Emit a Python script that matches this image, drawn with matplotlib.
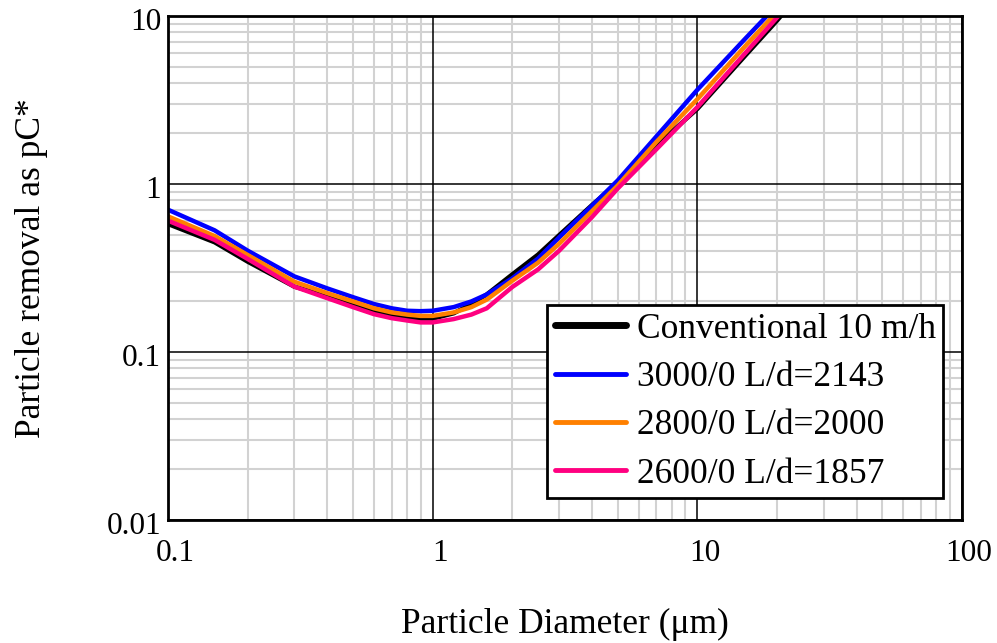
import matplotlib
matplotlib.use("Agg")
import matplotlib.pyplot as plt
from matplotlib.ticker import FixedLocator, FixedFormatter, LogLocator, NullFormatter
from matplotlib.transforms import ScaledTranslation

plt.rcParams['font.family'] = ['Liberation Serif', 'DejaVu Serif']

diam = [0.1, 0.15, 0.2, 0.3, 0.4, 0.5, 0.6, 0.7, 0.8, 0.9, 1.0, 1.2, 1.4, 1.6,
        2, 2.5, 3, 4, 5, 7, 10, 15, 20, 25]
conventional = [0.578, 0.45, 0.345, 0.245, 0.215, 0.19, 0.174, 0.165, 0.16, 0.158, 0.158, 0.17, 0.193, 0.22,
                0.29, 0.38, 0.495, 0.75, 1.02, 1.7, 2.8, 5.7, 9.4, 14.3]
l3000 = [0.703, 0.53, 0.401, 0.282, 0.239, 0.212, 0.193, 0.182, 0.176, 0.175, 0.176, 0.185, 0.2, 0.22,
         0.275, 0.36, 0.48, 0.743, 1.05, 1.92, 3.64, 7.2, 11.6, 16]
l2800 = [0.642, 0.49, 0.378, 0.262, 0.224, 0.2, 0.182, 0.172, 0.167, 0.164, 0.164, 0.172, 0.185, 0.205,
         0.266, 0.34, 0.44, 0.69, 0.98, 1.78, 3.2, 6.5, 10.6, 15.5]
l2600 = [0.605, 0.465, 0.358, 0.245, 0.209, 0.185, 0.168, 0.159, 0.154, 0.150, 0.150, 0.157, 0.167, 0.182,
         0.244, 0.31, 0.40, 0.636, 0.94, 1.61, 2.87, 5.9, 9.8, 14.5]

labels = ["Conventional 10 m/h", "3000/0 L/d=2143", "2800/0 L/d=2000", "2600/0 L/d=1857"]
colors = ["#000000", "#0000FF", "#FF8000", "#FF0080"]

xticks = [0.1, 1, 10, 100]
xticklabels = ["0.1", "1", "10", "100"]
yticks = [0.01, 0.1, 1, 10]
yticklabels = ["0.01", "0.1", "1", "10"]

fig = plt.figure(figsize=(9.97, 6.43), dpi=100)
ax = fig.add_axes([0.1685, 0.1913, 0.7965, 0.7838])
ax.set_xscale('log')
ax.set_yscale('log')
ax.set_xlim(0.1, 100)
ax.set_ylim(0.01, 10)

series = [conventional, l3000, l2800, l2600]
handles = []
for s, c, lab in zip(series, colors, labels):
    h, = ax.plot(diam, s, color=c, lw=3.2, label=lab, solid_capstyle='round',
                 solid_joinstyle='round', zorder=3)
    handles.append(h)

ax.xaxis.set_major_locator(FixedLocator(xticks))
ax.xaxis.set_major_formatter(FixedFormatter(xticklabels))
ax.yaxis.set_major_locator(FixedLocator(yticks))
ax.yaxis.set_major_formatter(FixedFormatter(yticklabels))
ax.xaxis.set_minor_locator(LogLocator(base=10, subs=range(2, 10)))
ax.yaxis.set_minor_locator(LogLocator(base=10, subs=range(2, 10)))
ax.xaxis.set_minor_formatter(NullFormatter())
ax.yaxis.set_minor_formatter(NullFormatter())
ax.set_axisbelow(True)
ax.grid(which='minor', color='#d2d2d2', lw=1.5)
for v in xticks:
    ax.axvline(v, color='black', lw=1.1, zorder=1.5)
for v in yticks:
    ax.axhline(v, color='black', lw=1.1, zorder=1.5)
ax.tick_params(which='both', length=0, labelsize=22.5)
ax.tick_params(axis='x', pad=14)
ax.tick_params(axis='y', pad=5)
for sp in ax.spines.values():
    sp.set_linewidth(2.0)
    sp.set_zorder(4)

# small offsets of tick labels as in the original
xoff = ScaledTranslation(7 / 100, 0, fig.dpi_scale_trans)
yoff = ScaledTranslation(0, -3 / 100, fig.dpi_scale_trans)
for t in ax.get_xticklabels():
    t.set_transform(t.get_transform() + xoff)
for t in ax.get_yticklabels():
    t.set_transform(t.get_transform() + yoff)

ax.set_xlabel("Particle Diameter (\u03bcm)", fontsize=25.5)
ax.set_ylabel("Particle removal as pC*", fontsize=25.5)
ax.xaxis.label.set_va('center')
ax.yaxis.label.set_va('center')
ax.xaxis.set_label_coords(0.5, -0.208)
ax.yaxis.set_label_coords(-0.172, 0.5)

leg = ax.legend(handles=handles, labels=labels, loc='lower right', bbox_to_anchor=(0.9765, 0.043),
                fontsize=25.5, frameon=True, fancybox=False, edgecolor='black', framealpha=1,
                handlelength=2.0, handletextpad=0.3, borderpad=0.22, labelspacing=0.43,
                borderaxespad=0)
leg.get_frame().set_linewidth(2.0)
leg.set_zorder(5)
leg.legend_handles[0].set_linewidth(5)
for lh in leg.legend_handles[1:]:
    lh.set_linewidth(3.5)

fig.savefig("out.png", dpi=100, facecolor='white')
